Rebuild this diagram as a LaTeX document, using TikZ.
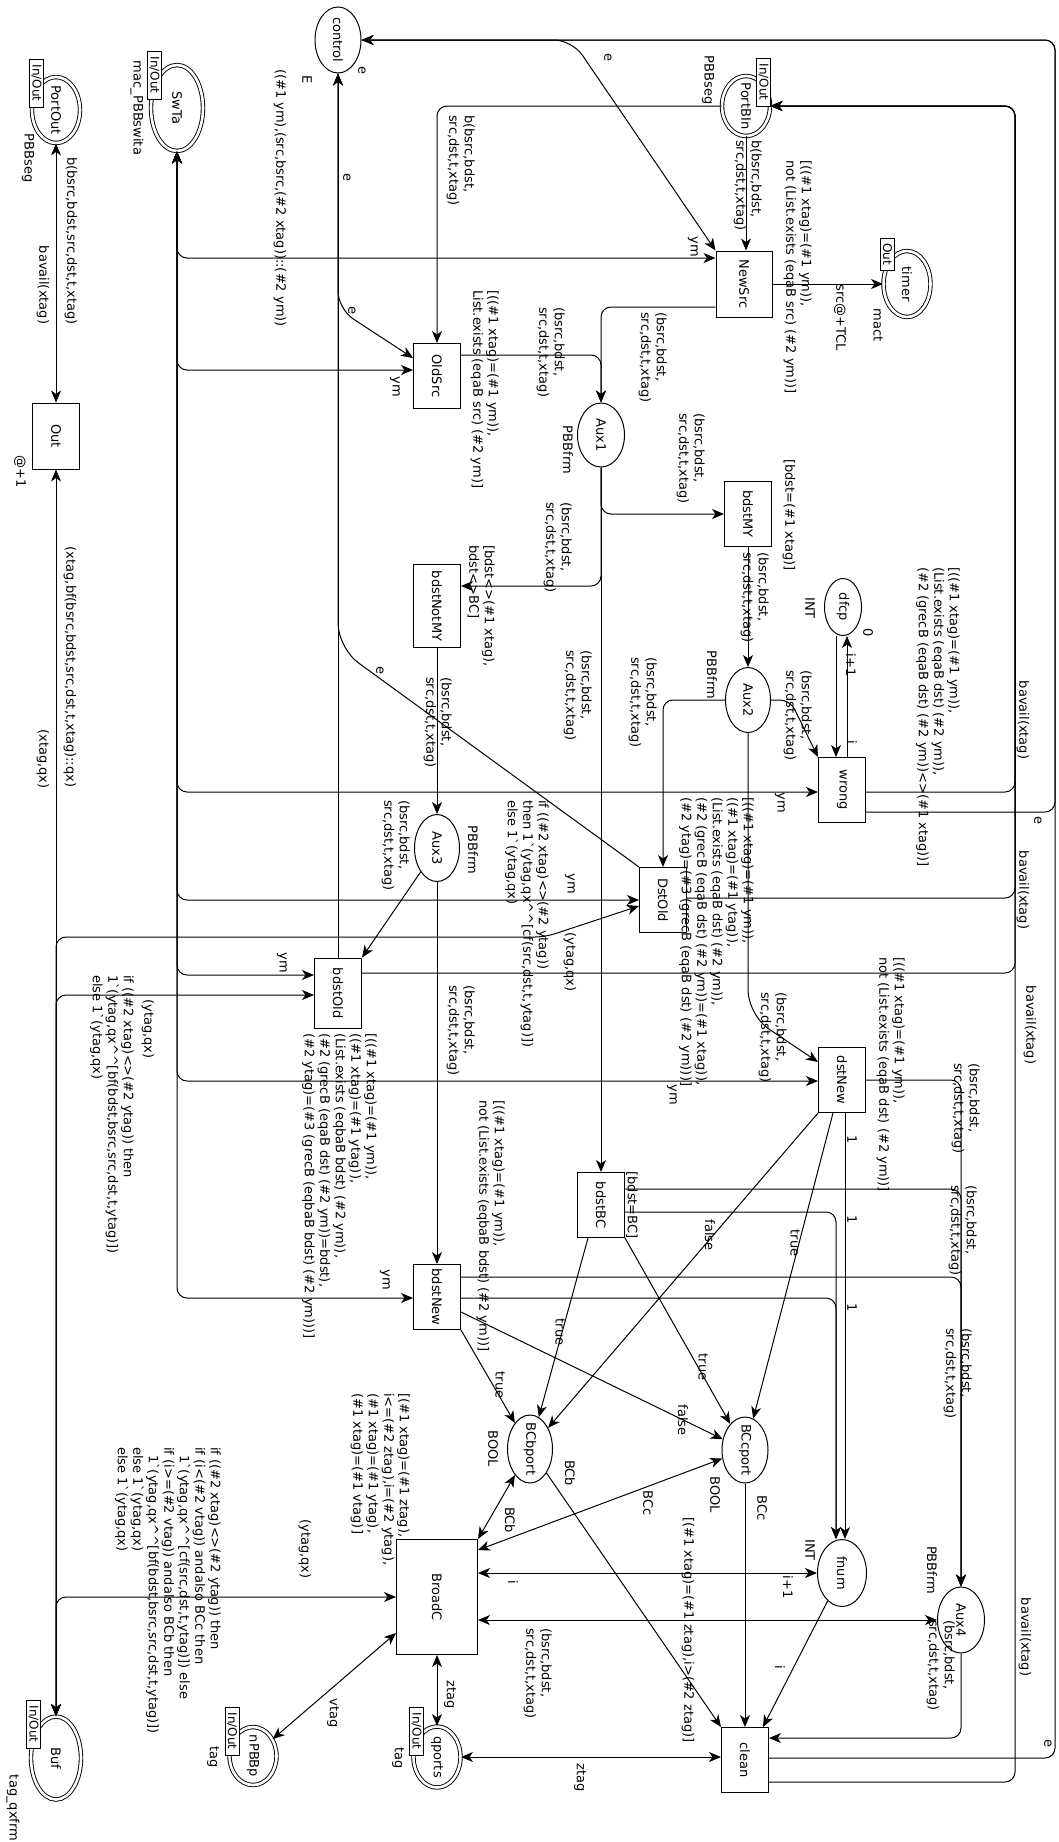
\documentclass[tikz,border=0pt]{standalone}
\usepackage{fontspec}
\setmainfont{DejaVu Sans}
\usetikzlibrary{arrows.meta,shapes.geometric}
\newcommand\lf{\fontsize{13pt}{15.5pt}\selectfont}
\newcommand\tgf{\fontsize{12pt}{13pt}\selectfont}
\newcommand\grv{\textasciigrave}
\newcommand\crt{\textasciicircum\textasciicircum}
\newcommand\rt[1]{\rotatebox{-90}{#1}}
\tikzset{
  place/.style={ellipse, draw, line width=1pt, inner sep=0pt},
  dplace/.style={ellipse, draw, double, double distance=2.6pt, line width=0.9pt, inner sep=0pt},
  trans/.style={rectangle, draw, line width=1pt, minimum width=47pt, minimum height=65pt, inner sep=0pt, font=\lf},
  tagbox/.style={rectangle, draw, fill=white, line width=0.8pt, inner sep=0pt, font=\tgf, minimum width=14pt, minimum height=48pt},
  lbl/.style={rotate=-90, inner sep=0pt, font=\lf, align=left},
  nw/.style={lbl, anchor=north west},
  nm/.style={rotate=-90, inner sep=0pt, font=\lf},
  tip/.tip={Stealth[length=12pt,width=10pt,inset=3.5pt]},
  aw/.style={line width=1pt, -tip},
  baw/.style={line width=1pt, tip-tip},
  rc/.style={rounded corners=10pt},
}
\begin{document}
\begin{tikzpicture}[x=1pt,y=-1pt]
\fill[white] (0,0) rectangle (1058,1842);
\useasboundingbox (0,0) rectangle (1058,1842);

% ---------- places ----------
\node[place, minimum width=46pt, minimum height=66pt, label={[nm]center:control}] (control) at (338,40) {};
\node[dplace, minimum width=52pt, minimum height=86pt, label={[nm]center:SwTa}] (SwTa) at (177,108) {};
\node[dplace, minimum width=48pt, minimum height=66pt, label={[nm]center:PortOut}] (PortOut) at (56,110) {};
\node[dplace, minimum width=48pt, minimum height=60pt, label={[nm]center:PortBIn}] (PortBIn) at (746,106) {};
\node[dplace, minimum width=47pt, minimum height=66pt, label={[nm]center:timer}] (timer) at (907,284) {};
\node[place, minimum width=47pt, minimum height=64pt, label={[nm]center:Aux1}] (Aux1) at (601,435) {};
\node[place, minimum width=37pt, minimum height=57pt, label={[nm]center:dfcp}] (dfcp) at (843,607) {};
\node[place, minimum width=45pt, minimum height=65pt, label={[nm]center:Aux2}] (Aux2) at (748,700) {};
\node[place, minimum width=45pt, minimum height=67pt, label={[nm]center:Aux3}] (Aux3) at (437,848) {};
\node[place, minimum width=46pt, minimum height=66pt, label={[nm]center:BCcport}] (BCcport) at (745,1450) {};
\node[place, minimum width=45pt, minimum height=68pt, label={[nm]center:BCbport}] (BCbport) at (530,1449) {};
\node[place, minimum width=49pt, minimum height=67pt, label={[nm]center:fnum}] (fnum) at (842,1573) {};
\node[place, minimum width=47pt, minimum height=66pt, label={[nm]center:Aux4}] (Aux4) at (961,1620) {};
\node[dplace, minimum width=47pt, minimum height=61pt, label={[nm]center:qports}] (qports) at (437,1757) {};
\node[dplace, minimum width=47pt, minimum height=58pt, label={[nm]center:nPBBp}] (nPBBp) at (253,1756) {};
\node[dplace, minimum width=50pt, minimum height=83pt, label={[nm]center:Buf}] (Buf) at (56,1758) {};

% ---------- transitions ----------
\node[trans, minimum width=56pt, minimum height=66pt] (NewSrc) at (744,284) {\rt{NewSrc}};
\node[trans] (OldSrc) at (437,376) {\rt{OldSrc}};
\node[trans, minimum height=66pt] (Out) at (56,436) {\rt{Out}};
\node[trans] (bdstMY) at (748,514) {\rt{bdstMY}};
\node[trans, minimum height=83pt] (bdstNotMY) at (437,606) {\rt{bdstNotMY}};
\node[trans] (wrong) at (842,790) {\rt{wrong}};
\node[trans] (DstOld) at (663,900) {\rt{DstOld}};
\node[trans, minimum height=70pt] (bdstOld) at (338,993) {\rt{bdstOld}};
\node[trans] (dstNew) at (842,1080) {\rt{dstNew}};
\node[trans] (bdstBC) at (601,1205) {\rt{bdstBC}};
\node[trans] (bdstNew) at (437,1297) {\rt{bdstNew}};
\node[trans, minimum width=81pt, minimum height=115pt] (BroadC) at (437,1597) {\rt{BroadC}};
\node[trans] (clean) at (745,1760) {\rt{clean}};

% ---------- arcs: ports Out / Buf ----------
\draw[baw] (PortOut) -- (Out);
\draw[baw] (Buf) -- (Out);
\draw[baw, rc] (Buf) |- (545,937) -- (DstOld.west |- 0,906);
\draw[baw, rc] (Buf) |- (bdstOld.west |- 0,995);
\draw[baw, rc] (Buf) |- (BroadC);

% ---------- SwTa trunk ----------
\draw[baw, rc] (SwTa) |- (NewSrc.west |- 0,258);
\draw[baw, rc] (SwTa) |- (OldSrc.west |- 0,370);
\draw[baw, rc] (SwTa) |- (wrong.west |- 0,792);
\draw[baw, rc] (SwTa) |- (DstOld.west |- 0,900);
\draw[baw, rc] (SwTa) |- (bdstOld.west |- 0,975);
\draw[baw, rc] (SwTa) |- (dstNew.west |- 0,1081);
\draw[baw, rc] (SwTa) |- (bdstNew.west |- 0,1298);

% ---------- control ----------
\draw[aw, rounded corners=18pt] (control) -- (572,40) -- (NewSrc.north west);
\draw[aw, rc] (clean.east |- 0,1758) -| (1055,40) -- (control);
\draw[aw, rc] (wrong.east |- 0,812) -| (1055,40) -- (control);
\draw[aw] (bdstOld) -- (control);
\draw[aw, rounded corners=18pt] (control) -- (338,309) -- (OldSrc.west |- 0,358);
\draw[aw, rounded corners=25pt] (DstOld.north west) -- (338,648) -- (control);

% ---------- PortBIn ----------
\draw[aw] (PortBIn) -- (PortBIn |- NewSrc.north);
\draw[aw, rc] (PortBIn) -| (OldSrc);
\draw[aw, rc] (wrong.east |- 0,792) -| (1015,106) -- (PortBIn);
\draw[aw, rc] (DstOld.east |- 0,898) -| (1015,106) -- (PortBIn);
\draw[aw, rc] (bdstOld.east |- 0,973) -| (1015,106) -- (PortBIn);
\draw[aw, rc] (clean.east |- 0,1782) -| (1015,106) -- (PortBIn);

% ---------- NewSrc / OldSrc / Aux1 ----------
\draw[aw] (NewSrc) -- (timer);
\draw[aw, rc] (NewSrc.west |- 0,307) -| (Aux1);
\draw[aw, rc] (OldSrc.east |- 0,355) -| (Aux1);
\draw[aw, rc] (Aux1) |- (bdstMY);
\draw[aw, rc] (Aux1) |- (bdstNotMY.east |- 0,586);
\draw[aw] (Aux1) -- (bdstBC);

% ---------- Aux2 / Aux3 / dfcp ----------
\draw[aw] (bdstMY) -- (Aux2);
\draw[aw, rc] (Aux2.east) -- (790,700) -- (wrong.north west);
\draw[aw, rc] (Aux2) -| (DstOld);
\draw[aw, rounded corners=25pt] (Aux2) -- (748,1015) -- (dstNew.west |- 0,1062);
\draw[aw] (dfcp.south -| 836,0) -- (wrong.north -| 836,0);
\draw[aw] (wrong.north -| 847,0) -- (dfcp.south -| 847,0);
\draw[aw] (bdstNotMY) -- (Aux3);
\draw[aw] (Aux3) -- (bdstOld.north east);
\draw[aw] (Aux3) -- (bdstNew);

% ---------- to Aux4 / fnum ----------
\draw[aw, rc] (dstNew) -| (Aux4);
\draw[aw, rc] (bdstBC.east |- 0,1189) -| (Aux4);
\draw[aw, rc] (bdstNew.east |- 0,1277) -| (Aux4);
\draw[aw] (dstNew.south -| 845,0) -- (fnum.north -| 845,0);
\draw[aw, rc] (bdstBC.east |- 0,1212) -| (fnum.north -| 836,0);
\draw[aw, rc] (bdstNew.east |- 0,1298) -| (fnum.north -| 836,0);

% ---------- to BCcport / BCbport ----------
\draw[aw] (dstNew.south -| 833,0) -- (BCcport);
\draw[aw] (dstNew.south west) -- (BCbport);
\draw[aw] (bdstBC.south east) -- (BCcport);
\draw[aw] (bdstBC.south -| 588,0) -- (BCbport);
\draw[aw] (bdstNew.east |- 0,1312) -- (BCcport);
\draw[aw] (bdstNew.south east) -- (BCbport);

% ---------- BroadC ----------
\draw[baw] (BCbport) -- (BroadC.north east);
\draw[baw] (BCcport) -- (BroadC.east |- 0,1550);
\draw[baw] (fnum) -- (BroadC.east |- fnum);
\draw[baw] (Aux4) -- (BroadC.east |- Aux4);
\draw[baw] (BroadC) -- (qports);
\draw[baw] (nPBBp) -- (BroadC.west |- 0,1633);

% ---------- clean ----------
\draw[baw] (qports) -- (clean.west |- qports);
\draw[aw] (BCcport) -- (clean.north -| BCcport);
\draw[aw] (fnum) -- (clean.north -| 763,0);
\draw[aw] (BCbport) -- (clean.north west);
\draw[aw, rc] (Aux4) |- (clean.east |- 0,1738);

% ---------- port tags ----------
\node[tagbox] (tgPortOut) at (36.5,83) {\rt{In/Out}};
\node[tagbox] (tgSwTa) at (154.5,75) {\rt{In/Out}};
\node[tagbox] (tgPortBIn) at (763.5,82) {\rt{In/Out}};
\node[tagbox, minimum height=32pt] (tgtimer) at (887.5,254) {\rt{Out}};
\node[tagbox] (tgBuf) at (33.5,1724) {\rt{In/Out}};
\node[tagbox] (tgnPBBp) at (232,1731) {\rt{In/Out}};
\node[tagbox] (tgqports) at (416.5,1731) {\rt{In/Out}};

% ---------- place / transition inscriptions ----------
\node[lbl] (sE) at (307,80) {E};
\node[lbl] (sSwTa) at (137,108) {mac\_PBBswita};
\node[lbl] (sPortOut) at (28,158) {PBBseg};
\node[lbl] (sPortBIn) at (708,80) {PBBseg};
\node[lbl] (stimer) at (878,325) {mact};
\node[lbl] (sAux1) at (568,450) {PBBfrm};
\node[lbl] (sdfcp) at (810,608) {INT};
\node[lbl] (idfcp) at (868,633) {0};
\node[lbl] (sAux2) at (712,675) {PBBfrm};
\node[lbl] (sAux3) at (473,850) {PBBfrm};
\node[lbl] (sBCc) at (715,1495) {BOOL};
\node[lbl] (sBCb) at (493,1449) {BOOL};
\node[lbl] (sfnum) at (810,1550) {INT};
\node[lbl] (sAux4) at (932,1570) {PBBfrm};
\node[lbl] (sqports) at (398,1758) {tag};
\node[lbl] (snPBBp) at (213,1757) {tag};
\node[lbl] (sBuf) at (13,1808) {tag\_qxfrm};
\node[lbl] (tOut) at (20,472) {@+1};

% ---------- arc inscriptions ----------
\node[lbl] (l01) at (71,241) {b(bsrc,bdst,src,dst,t,xtag)};
\node[lbl] (l02) at (43,285) {bavail(xtag)};
\node[lbl] (l03) at (70,667) {(xtag,bf(bsrc,bdst,src,dst,t,xtag)::qx)};
\node[lbl] (l04) at (43,759) {(xtag,qx)};
\node[lbl] (l05) at (280,198) {((\#1 ym),(src,bsrc,(\#2 xtag))::(\#2 ym))};
\node[lbl] (e1) at (362,70) {e};
\node[lbl] (e2) at (347,177) {e};
\node[lbl] (e3) at (352,310) {e};
\node[lbl] (e4) at (608,57) {e};
\node[lbl] (e5) at (380,670) {e};
\node[lbl] (e6) at (1038,820) {e};
\node[lbl] (e7) at (1048,1743) {e};
\node[lbl] (ym1) at (693,247) {ym};
\node[lbl] (ym2) at (395,387) {ym};
\node[lbl] (ym3) at (780,803) {ym};
\node[lbl] (ym4) at (570,884) {ym};
\node[lbl] (ym5) at (282,963) {ym};
\node[lbl] (ym6) at (672,1095) {ym};
\node[lbl] (ym7) at (385,1280) {ym};
\node[lbl] (l06) at (840,318) {src@+TCL};
\node[lbl] (g01) at (789,515) {[bdst=(\#1 xtag)]};
\node[lbl] (l07) at (851,665) {i+1};
\node[lbl] (l08) at (852,742) {i};
\node[lbl] (bv1) at (1023,720) {bavail(xtag)};
\node[lbl] (bv2) at (1023,890) {bavail(xtag)};
\node[lbl] (bv3) at (1030,1025) {bavail(xtag)};
\node[lbl] (bv4) at (1025,1637) {bavail(xtag)};
\node[lbl] (yq1) at (570,962) {(ytag,qx)};
\node[lbl] (yq2) at (148,1029) {(ytag,qx)};
\node[lbl] (yq3) at (305,1549) {(ytag,qx)};
\node[lbl] (one1) at (852,1140) {1};
\node[lbl] (one2) at (852,1220) {1};
\node[lbl] (one3) at (852,1308) {1};
\node[lbl] (tf1) at (795,1243) {true};
\node[lbl] (tf2) at (710,1235) {false};
\node[lbl] (tf3) at (560,1332) {true};
\node[lbl] (tf4) at (703,1367) {true};
\node[lbl] (tf5) at (683,1420) {false};
\node[lbl] (tf6) at (500,1385) {true};
\node[lbl] (g02) at (632,1205) {[bdst=BC]};
\node[lbl] (bc1) at (510,1520) {BCb};
\node[lbl] (bc2) at (648,1503) {BCc};
\node[lbl] (bc3) at (570,1473) {BCb};
\node[lbl] (bc4) at (762,1508) {BCc};
\node[lbl] (l09) at (513,1582) {i};
\node[lbl] (l10) at (788,1587) {i+1};
\node[lbl] (l11) at (450,1695) {ztag};
\node[lbl] (l12) at (580,1778) {ztag};
\node[lbl] (l13) at (333,1713) {vtag};
\node[lbl] (l14) at (780,1667) {i};
\node[lbl] (g03) at (688,1630) {[(\#1 xtag)=(\#1 ztag),i>(\#2 ztag)]};

% multi-line inscriptions (anchor = top right in the picture)
\node[nw] (m01) at (475,115) {b(bsrc,bdst,\\src,dst,t,xtag)};
\node[nw] (m02) at (762,140) {b(bsrc,bdst,\\src,dst,t,xtag)};
\node[nw] (m03) at (812,160) {[((\#1 xtag)=(\#1 ym)),\\not (List.exists (eqaB src) (\#2 ym))]};
\node[nw] (m04) at (667,312) {(bsrc,bdst,\\src,dst,t,xtag)};
\node[nw] (m05) at (565,307) {(bsrc,bdst,\\src,dst,t,xtag)};
\node[nw] (m06) at (499,290) {[((\#1 xtag)=(\#1 ym)),\\List.exists (eqaB src) (\#2 ym)]};
\node[nw] (m07) at (705,413) {(bsrc,bdst,\\src,dst,t,xtag)};
\node[nw] (m08) at (572,502) {(bsrc,bdst,\\src,dst,t,xtag)};
\node[nw] (m09) at (495,545) {[bdst<>(\#1 xtag),\\bdst<>BC]};
\node[nw] (m10) at (592,650) {(bsrc,bdst,\\src,dst,t,xtag)};
\node[nw] (m11) at (769,552) {(bsrc,bdst,\\src,dst,t,xtag)};
\node[nw] (m12) at (452,677) {(bsrc,bdst,\\src,dst,t,xtag)};
\node[nw] (m13) at (657,657) {(bsrc,bdst,\\src,dst,t,xtag)};
\node[nw] (m14) at (812,670) {(bsrc,bdst,\\src,dst,t,xtag)};
\node[nw] (m15) at (960,567) {[((\#1 xtag)=(\#1 ym)),\\(List.exists (eqaB dst) (\#2 ym)),\\(\#2 (grecB (eqaB dst) (\#2 ym))<>(\#1 xtag))]};
\node[nw] (m16) at (754,797) {[((\#1 xtag)=(\#1 ym)),\\((\#1 xtag)=(\#1 ytag)),\\(List.exists (eqaB dst) (\#2 ym)),\\(\#2 (grecB (eqaB dst) (\#2 ym))=(\#1 xtag)),\\(\#2 ytag)=(\#3 (grecB (eqaB dst) (\#2 ym)))]};
\node[nw] (m17) at (549,800) {if ((\#2 xtag)<>(\#2 ytag))\\then 1\grv(ytag,qx\crt[cf(src,dst,t,ytag)])\\else 1\grv(ytag,qx)};
\node[nw] (m18) at (377,1033) {[((\#1 xtag)=(\#1 ym)),\\((\#1 xtag)=(\#1 ytag)),\\(List.exists (eqbaB bdst) (\#2 ym)),\\(\#2 (grecB (eqaB dst) (\#2 ym))=bdst),\\(\#2 ytag)=(\#3 (grecB (eqbaB bdst) (\#2 ym)))]};
\node[nw] (m19) at (410,800) {(bsrc,bdst,\\src,dst,t,xtag)};
\node[nw] (m20) at (475,985) {(bsrc,bdst,\\src,dst,t,xtag)};
\node[nw] (m21) at (134,975) {if ((\#2 xtag)<>(\#2 ytag)) then\\1\grv(ytag,qx\crt[bf(bdst,bsrc,src,dst,t,ytag)])\\else 1\grv(ytag,qx)};
\node[nw] (m22) at (787,992) {(bsrc,bdst,\\src,dst,t,xtag)};
\node[nw] (m23) at (905,957) {[((\#1 xtag)=(\#1 ym)),\\not (List.exists (eqaB dst) (\#2 ym))]};
\node[nw] (m24) at (980,1063) {(bsrc,bdst,\\src,dst,t,xtag)};
\node[nw] (m25) at (977,1185) {(bsrc,bdst,\\src,dst,t,xtag)};
\node[nw] (m26) at (972,1328) {(bsrc,bdst,\\src,dst,t,xtag)};
\node[nw] (m27) at (505,1100) {[((\#1 xtag)=(\#1 ym)),\\not (List.exists (eqbaB bdst) (\#2 ym))]};
\node[nw] (m28) at (410,1393) {[(\#1 xtag)=(\#1 ztag),\\i<=(\#2 ztag),i=(\#2 ytag),\\(\#1 xtag)=(\#1 ytag),\\(\#1 xtag)=(\#1 vtag)]};
\node[nw] (m29) at (221,1447) {if ((\#2 xtag)<>(\#2 ytag)) then\\if (i<(\#2 vtag)) andalso BCc then\\\hspace*{8pt}1\grv(ytag,qx\crt[cf(src,dst,t,ytag)]) else\\if (i>=(\#2 vtag)) andalso BCb then\\\hspace*{8pt}1\grv(ytag,qx\crt[bf(bdst,bsrc,src,dst,t,ytag)])\\else 1\grv(ytag,qx)\\else 1\grv(ytag,qx)};
\node[nw] (m30) at (552,1628) {(bsrc,bdst,\\src,dst,t,xtag)};
\node[nw] (m31) at (955,1620) {(bsrc,bdst,\\src,dst,t,xtag)};
\end{tikzpicture}
\end{document}
